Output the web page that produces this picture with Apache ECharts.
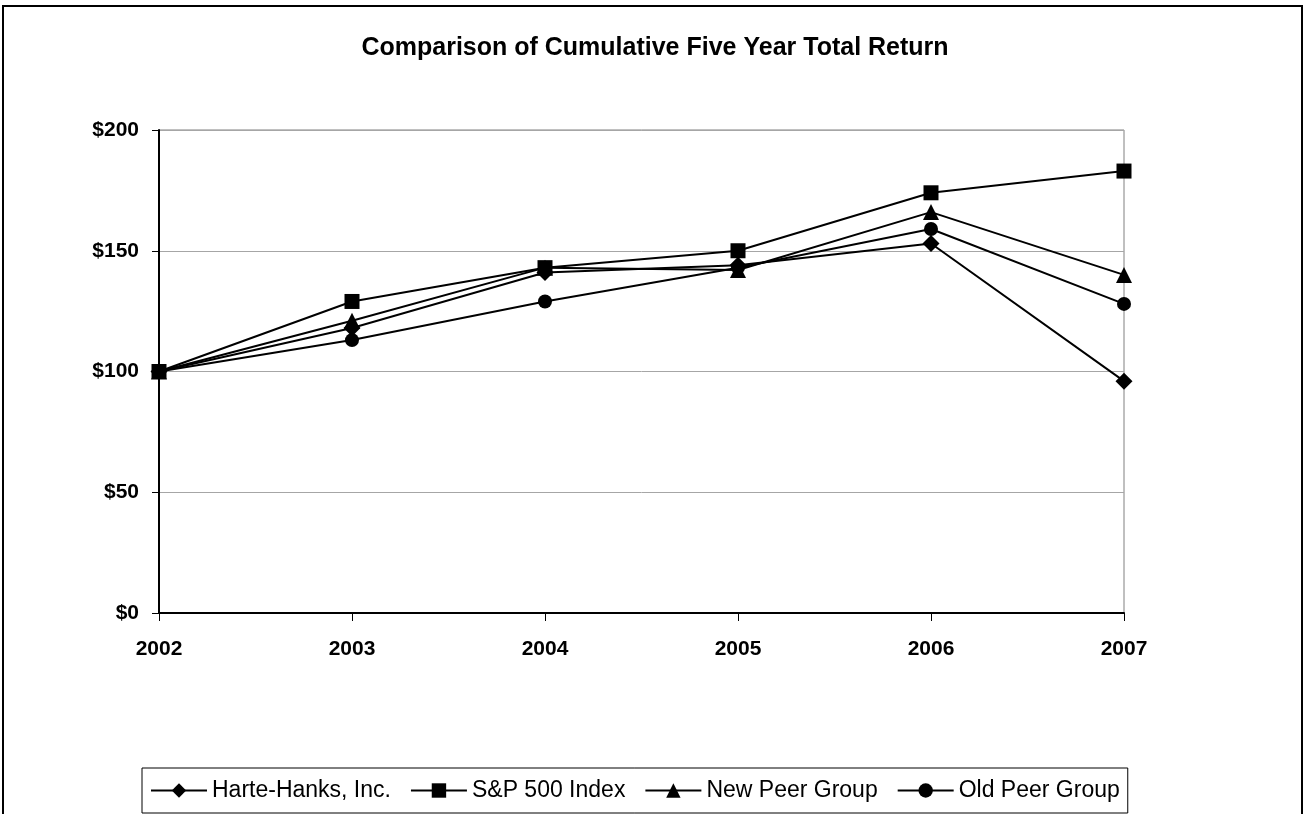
<!DOCTYPE html>
<html>
<head>
<meta charset="utf-8">
<script src="https://cdn.jsdelivr.net/npm/echarts@6/dist/echarts.min.js"></script>
<style>
  html, body { margin: 0; padding: 0; background: #fff; }
  #chart { width: 1310px; height: 814px; }
</style>
</head>
<body>
<div id="chart"></div>
<script>
// Years on the category axis
const years = ['2002', '2003', '2004', '2005', '2006', '2007'];

// Cumulative value of $100 invested, per series
const harteHanks = [100, 118, 141, 144, 153, 96];
const sp500 = [100, 129, 143, 150, 174, 183];
const newPeerGroup = [100, 121, 143, 142, 166, 140];
const oldPeerGroup = [100, 113, 129, 143, 159, 128];

// Value axis ticks
const yTicks = [0, 50, 100, 150, 200];

const FONT = '"Liberation Sans", Arial, sans-serif';

function lineSeries(name, data, symbol, size) {
  return {
    name: name,
    type: 'line',
    data: data,
    symbol: symbol,
    symbolSize: size,
    showAllSymbol: true,
    lineStyle: { color: '#000', width: 2 },
    itemStyle: { color: '#000' },
    emphasis: { disabled: true },
    animation: false
  };
}

const chart = echarts.init(document.getElementById('chart'), null, { renderer: 'canvas' });
chart.setOption({
  animation: false,
  backgroundColor: '#fff',
  title: {
    text: 'Comparison of Cumulative Five Year Total Return',
    left: 'center',
    top: 31,
    textStyle: { fontFamily: FONT, fontSize: 25, fontWeight: 'bold', color: '#000' }
  },
  graphic: [{
    type: 'rect',
    shape: { x: 3, y: 6, width: 1299, height: 830 },
    style: { fill: null, stroke: '#000', lineWidth: 2 },
    silent: true
  }],
  grid: {
    left: 159, right: 186, top: 130, bottom: 201,
    show: true, borderColor: '#808080', borderWidth: 1, backgroundColor: 'transparent'
  },
  legend: {
    bottom: 1,
    left: 142,
    data: ['Harte-Hanks, Inc.', 'S&P 500 Index', 'New Peer Group', 'Old Peer Group'],
    itemWidth: 56,
    itemHeight: 18,
    itemGap: 19,
    padding: [11, 8, 11, 8],
    borderColor: '#000',
    borderWidth: 1,
    textStyle: { fontFamily: FONT, fontSize: 23, color: '#000' },
    selectedMode: false
  },
  xAxis: {
    type: 'category',
    data: years,
    boundaryGap: false,
    axisLine: { lineStyle: { color: '#000', width: 2 } },
    axisTick: { show: true, length: 8, lineStyle: { color: '#000', width: 1 } },
    axisLabel: { margin: 26, fontFamily: FONT, fontSize: 21, fontWeight: 'bold', color: '#000' },
    splitLine: { show: false }
  },
  yAxis: {
    type: 'value',
    min: yTicks[0],
    max: yTicks[yTicks.length - 1],
    interval: 50,
    axisLine: { show: true, lineStyle: { color: '#000', width: 2 } },
    axisTick: { show: true, length: 7, lineStyle: { color: '#000', width: 1 } },
    axisLabel: {
      margin: 20, fontFamily: FONT, fontSize: 21, fontWeight: 'bold', color: '#000',
      formatter: v => '$' + v
    },
    splitLine: { show: true, lineStyle: { color: '#a6a6a6', width: 1 } }
  },
  series: [
    lineSeries('Harte-Hanks, Inc.', harteHanks, 'diamond', 17),
    lineSeries('S&P 500 Index', sp500, 'rect', 15),
    lineSeries('New Peer Group', newPeerGroup, 'triangle', 16),
    lineSeries('Old Peer Group', oldPeerGroup, 'circle', 14)
  ]
});
</script>
</body>
</html>
